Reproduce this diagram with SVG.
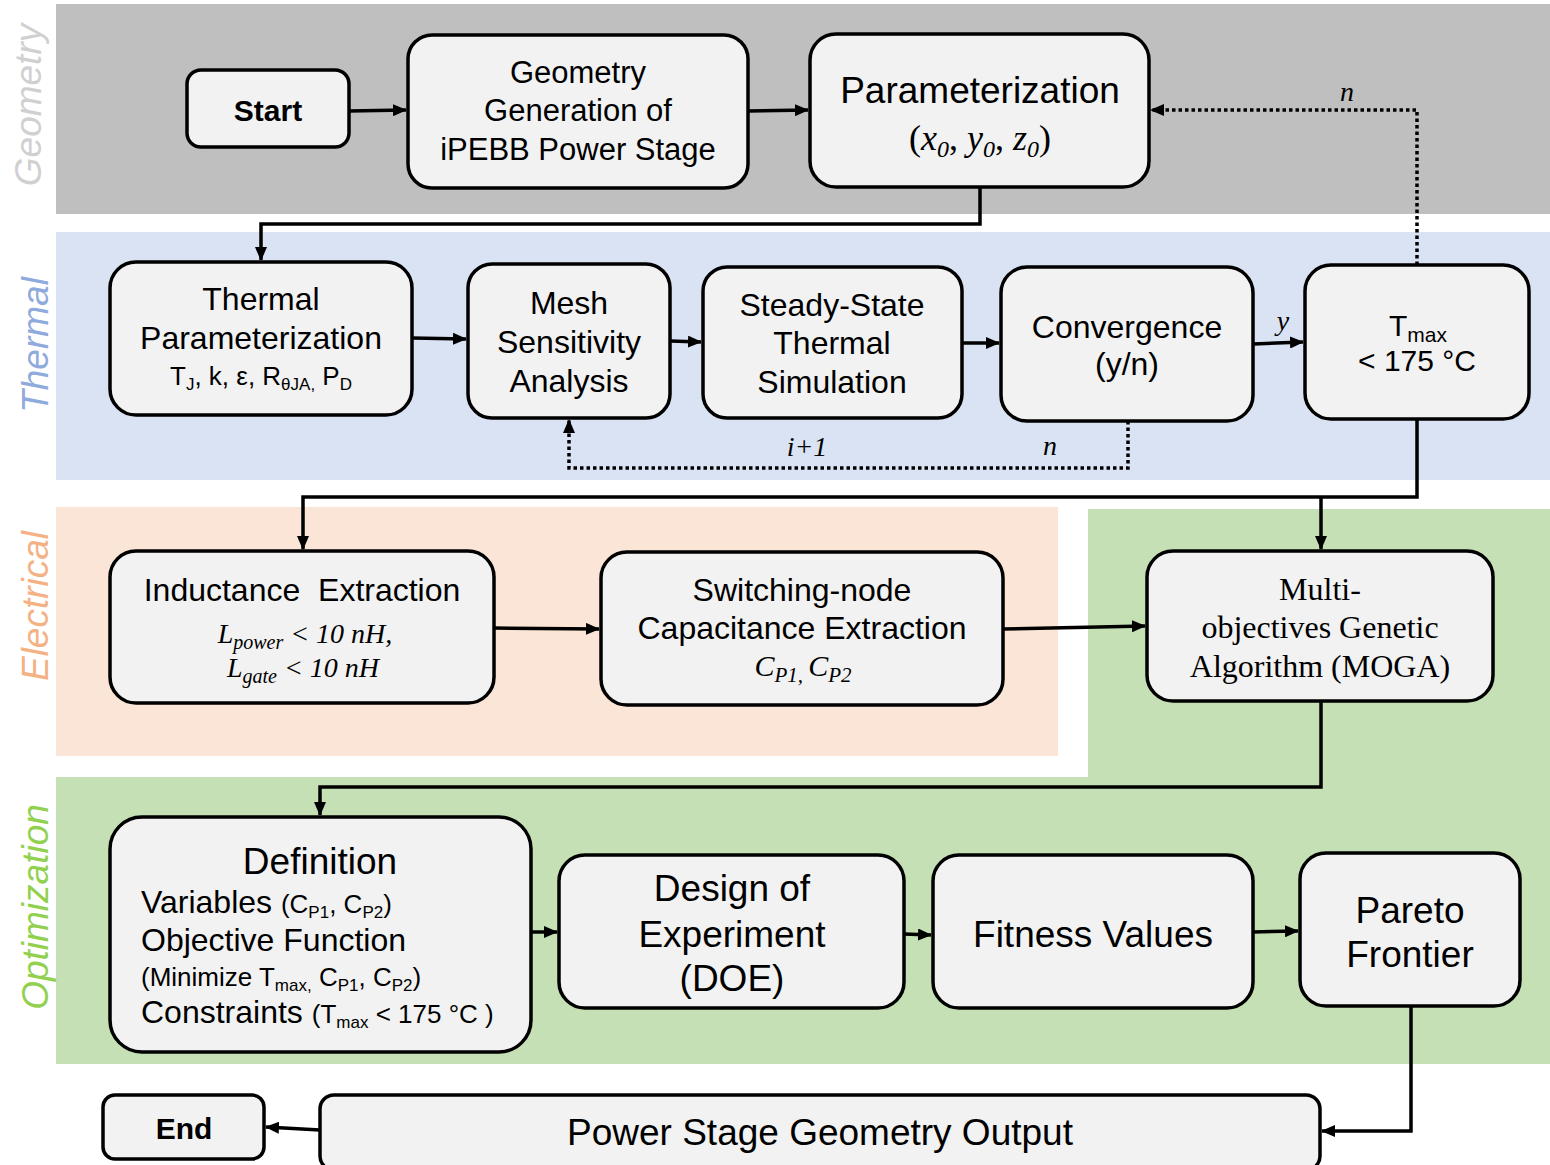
<svg xmlns="http://www.w3.org/2000/svg" width="1550" height="1165" viewBox="0 0 1550 1165">
<defs>
<marker id="ah" viewBox="0 0 14 12" markerWidth="14" markerHeight="12" refX="13" refY="6" orient="auto" markerUnits="userSpaceOnUse"><path d="M0,0 L14,6 L0,12 z" fill="#000"/></marker>
<style>
.box{fill:#f2f2f2;stroke:#000;stroke-width:3.5}
.t{font-family:"Liberation Sans",Arial,sans-serif;fill:#000;text-anchor:middle}
.s{font-family:"Liberation Serif","Times New Roman",serif;fill:#000;text-anchor:middle}
.lab{font-family:"Liberation Sans",Arial,sans-serif;font-style:italic;font-size:37px;text-anchor:middle}
.c{fill:none;stroke:#000;stroke-width:3.5}
.d{fill:none;stroke:#000;stroke-width:3.5;stroke-dasharray:3.5,3}
</style>
</defs>
<rect width="1550" height="1165" fill="#fff"/>
<g id="bands">
<rect x="56" y="4" width="1494" height="210" fill="#bfbfbf"/>
<rect x="56" y="232" width="1494" height="248" fill="#dae3f3"/>
<rect x="56" y="507" width="1002" height="249" fill="#fbe5d6"/>
<path d="M1088,509 H1550 V1064 H56 V777 H1088 Z" fill="#c5e0b4"/>
<text class="lab" fill="#d0d0d0" transform="translate(41,105) rotate(-90)">Geometry</text>
<text class="lab" fill="#8faadc" transform="translate(48,345) rotate(-90)">Thermal</text>
<text class="lab" fill="#f4b183" transform="translate(48,606) rotate(-90)">Electrical</text>
<text class="lab" fill="#92d050" transform="translate(48,907) rotate(-90)">Optimization</text>
</g>
<g id="connectors">
<path class="c" d="M349,111 L406,110" marker-end="url(#ah)"/>
<path class="c" d="M748,111 L808,110" marker-end="url(#ah)"/>
<path class="c" d="M980,187 V224 H261 V260" marker-end="url(#ah)"/>
<path class="c" d="M412,338 L466,339" marker-end="url(#ah)"/>
<path class="c" d="M670,341 L701,342" marker-end="url(#ah)"/>
<path class="c" d="M962,343 L999,343" marker-end="url(#ah)"/>
<path class="c" d="M1253,344 L1303,342" marker-end="url(#ah)"/>
<path class="d" d="M1417,265 V110 H1151" marker-end="url(#ah)"/>
<path class="d" d="M1128,421 V468 H569 V420" marker-end="url(#ah)"/>
<path class="c" d="M1417,419 V497 H303 V549" marker-end="url(#ah)"/>
<path class="c" d="M1321,497 V549" marker-end="url(#ah)"/>
<path class="c" d="M494,628 L599,629" marker-end="url(#ah)"/>
<path class="c" d="M1003,629 L1145,626" marker-end="url(#ah)"/>
<path class="c" d="M1321,701 V787 H320 V815" marker-end="url(#ah)"/>
<path class="c" d="M531,932 L557,932" marker-end="url(#ah)"/>
<path class="c" d="M904,934 L931,935" marker-end="url(#ah)"/>
<path class="c" d="M1253,932 L1298,931" marker-end="url(#ah)"/>
<path class="c" d="M1411,1006 V1131 H1322" marker-end="url(#ah)"/>
<path class="c" d="M320,1130 L266,1127" marker-end="url(#ah)"/>
<text class="s" font-style="italic" font-size="28" x="1347" y="101">n</text>
<text class="s" font-style="italic" font-size="28" x="1283" y="330">y</text>
<text class="s" font-style="italic" font-size="28" x="807" y="456">i+1</text>
<text class="s" font-style="italic" font-size="28" x="1050" y="455">n</text>
</g>
<g id="start"><rect class="box" x="187" y="70" width="162" height="77" rx="14"/><text class="t" font-weight="bold" font-size="30" x="268" y="121">Start</text></g>
<g id="geomgen"><rect class="box" x="408" y="35" width="340" height="153" rx="24"/>
<text class="t" font-size="31" x="578" y="83">Geometry</text><text class="t" font-size="31" x="578" y="121">Generation of</text><text class="t" font-size="31" x="578" y="160">iPEBB Power Stage</text></g>
<g id="param"><rect class="box" x="810" y="34" width="339" height="153" rx="26"/>
<text class="t" font-size="37" x="980" y="103">Parameterization</text>
<text class="s" font-size="36" x="980" y="150">(<tspan font-style="italic">x</tspan><tspan font-style="italic" font-size="24" dy="7">0</tspan><tspan dy="-7">, </tspan><tspan font-style="italic">y</tspan><tspan font-style="italic" font-size="24" dy="7">0</tspan><tspan dy="-7">, </tspan><tspan font-style="italic">z</tspan><tspan font-style="italic" font-size="24" dy="7">0</tspan><tspan dy="-7">)</tspan></text></g>
<g id="thermparam"><rect class="box" x="110" y="262" width="302" height="153" rx="26"/>
<text class="t" font-size="32" x="261" y="310">Thermal</text><text class="t" font-size="32" x="261" y="349">Parameterization</text>
<text class="t" font-size="26" x="261" y="385">T<tspan font-size="17" dy="5">J</tspan><tspan dy="-5">, k, ε, R</tspan><tspan font-size="17" dy="5">θJA,</tspan><tspan dy="-5"> P</tspan><tspan font-size="17" dy="5">D</tspan></text></g>
<g id="mesh"><rect class="box" x="468" y="264" width="202" height="154" rx="24"/>
<text class="t" font-size="32" x="569" y="314">Mesh</text><text class="t" font-size="32" x="569" y="353">Sensitivity</text><text class="t" font-size="32" x="569" y="392">Analysis</text></g>
<g id="steady"><rect class="box" x="703" y="267" width="259" height="151" rx="24"/>
<text class="t" font-size="32" x="832" y="316">Steady-State</text><text class="t" font-size="32" x="832" y="354">Thermal</text><text class="t" font-size="32" x="832" y="393">Simulation</text></g>
<g id="conv"><rect class="box" x="1001" y="267" width="252" height="154" rx="26"/>
<text class="t" font-size="32" x="1127" y="338">Convergence</text><text class="t" font-size="32" x="1127" y="375">(y/n)</text></g>
<g id="tmax"><rect class="box" x="1305" y="265" width="224" height="154" rx="26"/>
<text class="t" font-size="30" x="1418" y="336">T<tspan font-size="21" dy="6">max</tspan></text>
<text class="t" font-size="30" x="1417" y="371">&lt; 175 °C</text></g>
<g id="induct"><rect class="box" x="110" y="551" width="384" height="152" rx="26"/>
<text class="t" font-size="32" x="302" y="601" xml:space="preserve">Inductance  Extraction</text>
<text class="s" font-style="italic" font-size="28" x="305" y="643">L<tspan font-size="20" dy="6">power</tspan><tspan dy="-6"> &lt; 10 nH,</tspan></text>
<text class="s" font-style="italic" font-size="28" x="303" y="677">L<tspan font-size="20" dy="6">gate</tspan><tspan dy="-6"> &lt; 10 nH</tspan></text></g>
<g id="switch"><rect class="box" x="601" y="552" width="402" height="153" rx="26"/>
<text class="t" font-size="32" x="802" y="601">Switching-node</text><text class="t" font-size="32" x="802" y="639">Capacitance Extraction</text>
<text class="s" font-style="italic" font-size="30" x="803" y="676">C<tspan font-size="21" dy="6">P1, </tspan><tspan dy="-6">C</tspan><tspan font-size="21" dy="6">P2</tspan></text></g>
<g id="moga"><rect class="box" x="1147" y="551" width="346" height="150" rx="26"/>
<text class="s" font-size="32" x="1320" y="600">Multi-</text><text class="s" font-size="32" x="1320" y="638">objectives Genetic</text><text class="s" font-size="32" x="1320" y="677">Algorithm (MOGA)</text></g>
<g id="definition"><rect class="box" x="110" y="817" width="421" height="235" rx="32"/>
<text class="t" font-size="37" x="320" y="874">Definition</text>
<text class="t" font-size="32" x="141" y="913" text-anchor="start" style="text-anchor:start">Variables <tspan font-size="26">(C</tspan><tspan font-size="17" dy="5">P1</tspan><tspan font-size="26" dy="-5">, C</tspan><tspan font-size="17" dy="5">P2</tspan><tspan font-size="26" dy="-5">)</tspan></text>
<text class="t" font-size="32" x="141" y="951" style="text-anchor:start">Objective Function</text>
<text class="t" font-size="26" x="141" y="986" style="text-anchor:start">(Minimize T<tspan font-size="17" dy="5">max,</tspan><tspan dy="-5"> C</tspan><tspan font-size="17" dy="5">P1</tspan><tspan dy="-5">, C</tspan><tspan font-size="17" dy="5">P2</tspan><tspan dy="-5">)</tspan></text>
<text class="t" font-size="32" x="141" y="1023" style="text-anchor:start">Constraints <tspan font-size="26">(T</tspan><tspan font-size="17" dy="5">max</tspan><tspan font-size="26" dy="-5"> &lt; 175 °C )</tspan></text></g>
<g id="doe"><rect class="box" x="559" y="855" width="345" height="153" rx="26"/>
<text class="t" font-size="37" x="732" y="901">Design of</text><text class="t" font-size="37" x="732" y="947">Experiment</text><text class="t" font-size="37" x="732" y="991">(DOE)</text></g>
<g id="fitness"><rect class="box" x="933" y="855" width="320" height="153" rx="26"/>
<text class="t" font-size="37" x="1093" y="947">Fitness Values</text></g>
<g id="pareto"><rect class="box" x="1300" y="853" width="220" height="153" rx="26"/>
<text class="t" font-size="37" x="1410" y="923">Pareto</text><text class="t" font-size="37" x="1410" y="967">Frontier</text></g>
<g id="output"><rect class="box" x="320" y="1095" width="1000" height="75" rx="14"/>
<text class="t" font-size="37" x="820" y="1145">Power Stage Geometry Output</text></g>
<g id="end"><rect class="box" x="103" y="1095" width="161" height="64" rx="12"/>
<text class="t" font-weight="bold" font-size="30" x="184" y="1139">End</text></g>
</svg>
